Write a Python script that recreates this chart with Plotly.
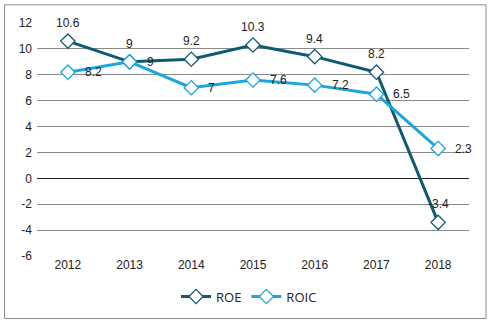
import plotly.graph_objects as go

years = ["2012", "2013", "2014", "2015", "2016", "2017", "2018"]
roe = [10.6, 9, 9.2, 10.3, 9.4, 8.2, -3.4]
roic = [8.2, 9, 7, 7.6, 7.2, 6.5, 2.3]
roe_labels = ["10.6", "9", "9.2", "10.3", "9.4", "8.2", "-3.4"]
roic_labels = ["8.2", "9", "7", "7.6", "7.2", "6.5", "2.3"]
ytick_vals = [-6, -4, -2, 0, 2, 4, 6, 8, 10, 12]
ytick_text = ["-6", "-4", "-2", "0", "2", "4", "6", "8", "10", "12"]

W, H = 490, 326
L, R, T, B = 37, 21, 22.7, 69.7
ROE_C = "#0f5a73"
ROIC_C = "#1ba6dc"
LBL_FONT = dict(family="Liberation Sans, Arial", size=12, color="#222")

fig = go.Figure()
fig.add_trace(go.Scatter(
    x=years, y=roe, name="ROE", mode="lines+markers",
    line=dict(color=ROE_C, width=3),
    marker=dict(symbol="diamond", size=11, color="white", line=dict(color=ROE_C, width=1.3)),
))
fig.add_trace(go.Scatter(
    x=years, y=roic, name="ROIC", mode="lines+markers",
    line=dict(color=ROIC_C, width=3),
    marker=dict(symbol="diamond", size=11, color="white", line=dict(color=ROIC_C, width=1.3)),
))

for i, (yv, t) in enumerate(zip(roe, roe_labels)):
    fig.add_annotation(x=i, y=yv, xref="x", yref="y", text=t, showarrow=False, yshift=18,
                       xanchor="center", yanchor="middle", font=LBL_FONT)
for i, (yv, t) in enumerate(zip(roic, roic_labels)):
    fig.add_annotation(x=i, y=yv, xref="x", yref="y", text=t, showarrow=False, xshift=15,
                       xanchor="left", yanchor="middle", font=LBL_FONT)

pw = W - L - R
ph = H - T - B
def px(x): return (x - L) / pw
def py(y): return (H - B - y) / ph

fig.add_shape(type="rect", xref="paper", yref="paper",
              x0=px(4.5), x1=px(486), y0=py(319), y1=py(4.5),
              line=dict(color="#8c8c8c", width=1), fillcolor="rgba(0,0,0,0)", layer="below")

fig.update_layout(
    width=W, height=H,
    margin=dict(l=L, r=R, t=T, b=B),
    paper_bgcolor="white", plot_bgcolor="white",
    font=dict(family="Liberation Sans, Arial", size=12, color="#222"),
    showlegend=True,
    legend=dict(orientation="h", x=px(176), xanchor="left", y=py(297), yanchor="middle",
                font=dict(family="Open Sans, Liberation Sans", size=13, color="#222"),
                itemwidth=30, tracegroupgap=0),
    xaxis=dict(type="category", range=[-0.5, 6.5], showgrid=False, showline=False,
               ticks="", tickfont=dict(size=12), fixedrange=True),
    yaxis=dict(range=[-6, 12], tickmode="array", tickvals=ytick_vals, ticktext=ytick_text,
               showgrid=True, gridcolor="#8a8a8a", gridwidth=1,
               zeroline=True, zerolinecolor="#222", zerolinewidth=1.2,
               showline=False, ticks="", tickfont=dict(size=12), ticklabelstandoff=4),
)

fig.write_html("out.html")
